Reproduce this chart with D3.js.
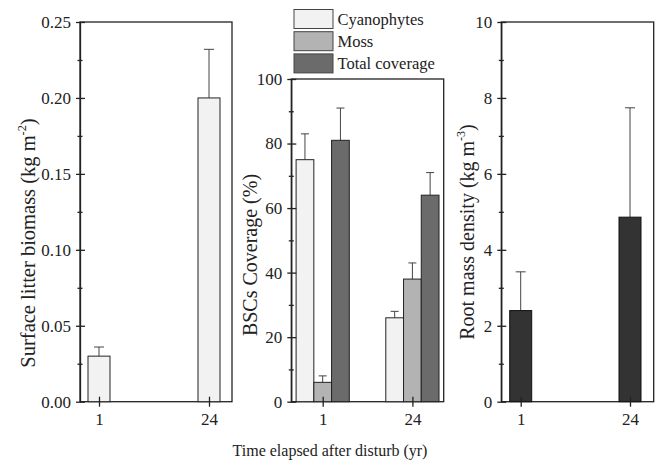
<!DOCTYPE html>
<html>
<head>
<meta charset="utf-8">
<script src="https://cdn.jsdelivr.net/npm/d3@7.9.0/dist/d3.min.js"></script>
<style>
  body { margin: 0; background: #fff; }
  svg { display: block; font-family: "Liberation Serif", "DejaVu Serif", serif; }
</style>
</head>
<body>
<div id="chart"></div>
<script>
// data
const years = ['1', '24'];

const litterMean = [0.03, 0.20];
const litterErr = [0.006, 0.032];

const bscSeries = ['Cyanophytes', 'Moss', 'Total coverage'];
const bscColors = ['#f2f2f2', '#b3b3b3', '#6b6b6b'];
const bscMean = [[75, 6, 81], [26, 38, 64]];
const bscErr = [[8, 2, 10], [2, 5, 7]];

const rootMean = [2.4, 4.86];
const rootErr = [1.02, 2.88];

const width = 660;
const height = 471;
const serif = '"Liberation Serif", "DejaVu Serif", serif';

const svg = d3.select('#chart')
  .append('svg')
  .attr('width', width)
  .attr('height', height);

function styleTicks(sel) {
  sel.attr('font-family', serif).attr('font-size', 17);
  sel.selectAll('text').attr('fill', '#222');
}

function drawPanel(box, yDomain, yMajor, yMinor, fmt) {
  const g = svg.append('g');
  const y = d3.scaleLinear().domain(yDomain).range([box.y1, box.y0]);
  const x = d3.scalePoint().domain(years).range([box.x0 + box.padL, box.x1 - box.padR]);

  // frame
  g.append('rect')
    .attr('x', box.x0).attr('y', box.y0)
    .attr('width', box.x1 - box.x0).attr('height', box.y1 - box.y0)
    .attr('fill', 'none').attr('stroke', '#222').attr('stroke-width', 1.3);

  const barsG = g.append('g');

  // y axis
  const ya = g.append('g')
    .attr('transform', `translate(${box.x0},0)`)
    .call(d3.axisLeft(y).tickValues(yMajor).tickFormat(fmt).tickSizeInner(4).tickSizeOuter(0).tickPadding(5))
    .call(styleTicks);
  ya.select('.domain').attr('stroke', '#222').attr('stroke-width', 1.3);
  ya.selectAll('.tick line').attr('x2', -4).attr('x1', 5).attr('stroke', '#222').attr('stroke-width', 1.3);
  g.append('g')
    .attr('transform', `translate(${box.x0},0)`)
    .call(d3.axisLeft(y).tickValues(yMinor).tickFormat('').tickSizeOuter(0))
    .call(a => a.select('.domain').remove())
    .selectAll('.tick line').attr('x1', 2.5).attr('x2', -2.5).attr('stroke', '#222').attr('stroke-width', 1.3);

  // x axis
  const xa = g.append('g')
    .attr('transform', `translate(0,${box.y1})`)
    .call(d3.axisBottom(x).tickSizeOuter(0).tickSizeInner(5).tickPadding(6))
    .call(styleTicks);
  xa.select('.domain').remove();
  xa.selectAll('.tick line').attr('y1', -5).attr('y2', 5).attr('stroke', '#222').attr('stroke-width', 1.3);

  return { g: barsG, x, y };
}

function errorBar(g, cx, yTop, yErr, cap) {
  g.append('line')
    .attr('x1', cx).attr('x2', cx).attr('y1', yTop).attr('y2', yErr)
    .attr('stroke', '#444').attr('stroke-width', 1);
  g.append('line')
    .attr('x1', cx - cap / 2).attr('x2', cx + cap / 2).attr('y1', yErr).attr('y2', yErr)
    .attr('stroke', '#444').attr('stroke-width', 1);
}

// Panel A: litter biomass
const pA = drawPanel({ x0: 80, x1: 232, y0: 22, y1: 401.7, padL: 19, padR: 23 },
  [0, 0.25], [0, 0.05, 0.10, 0.15, 0.20, 0.25], [0.025, 0.075, 0.125, 0.175, 0.225], d3.format('.2f'));
years.forEach((yr, i) => {
  const cx = pA.x(yr);
  const bw = 22;
  errorBar(pA.g, cx, pA.y(litterMean[i]), pA.y(litterMean[i] + litterErr[i]), 10);
  pA.g.append('rect')
    .attr('x', cx - bw / 2).attr('y', pA.y(litterMean[i]))
    .attr('width', bw).attr('height', pA.y(0) - pA.y(litterMean[i]))
    .attr('fill', '#f2f2f2').attr('stroke', '#222').attr('stroke-width', 1);
});

// Panel B: BSCs coverage
const pB = drawPanel({ x0: 291.3, x1: 443.7, y0: 79, y1: 401.7, padL: 31.4, padR: 31.3 },
  [0, 100], [0, 20, 40, 60, 80, 100], [10, 30, 50, 70, 90], d3.format('d'));
const inner = d3.scaleBand().domain(bscSeries).range([-26.6, 26.6]);
years.forEach((yr, i) => {
  bscSeries.forEach((s, j) => {
    const x0 = pB.x(yr) + inner(s);
    const bw = inner.bandwidth();
    errorBar(pB.g, x0 + bw / 2, pB.y(bscMean[i][j]), pB.y(bscMean[i][j] + bscErr[i][j]), 8);
    pB.g.append('rect')
      .attr('x', x0).attr('y', pB.y(bscMean[i][j]))
      .attr('width', bw).attr('height', pB.y(0) - pB.y(bscMean[i][j]))
      .attr('fill', bscColors[j]).attr('stroke', '#222').attr('stroke-width', 1);
  });
});

// legend
const legend = svg.append('g').attr('transform', 'translate(294,9.5)');
bscSeries.forEach((s, j) => {
  const row = legend.append('g').attr('transform', `translate(0,${j * 22.2})`);
  row.append('rect').attr('width', 39).attr('height', 19)
    .attr('fill', bscColors[j]).attr('stroke', '#444').attr('stroke-width', 1);
  row.append('text').attr('x', 43.5).attr('y', 15)
    .attr('font-size', 16.5).attr('fill', '#222').text(s);
});

// Panel C: root mass density
const pC = drawPanel({ x0: 501.3, x1: 653.7, y0: 22, y1: 401.7, padL: 19.4, padR: 23.7 },
  [0, 10], [0, 2, 4, 6, 8, 10], [1, 3, 5, 7, 9], d3.format('d'));
years.forEach((yr, i) => {
  const cx = pC.x(yr);
  const bw = 22;
  errorBar(pC.g, cx, pC.y(rootMean[i]), pC.y(rootMean[i] + rootErr[i]), 10);
  pC.g.append('rect')
    .attr('x', cx - bw / 2).attr('y', pC.y(rootMean[i]))
    .attr('width', bw).attr('height', pC.y(0) - pC.y(rootMean[i]))
    .attr('fill', '#333333').attr('stroke', '#111').attr('stroke-width', 1);
});

// axis titles
function yTitle(cx, cy, size, parts) {
  const t = svg.append('text')
    .attr('transform', `translate(${cx},${cy}) rotate(-90)`)
    .attr('text-anchor', 'middle')
    .attr('font-size', size).attr('fill', '#222');
  parts.forEach(p => {
    const ts = t.append('tspan').text(p.t);
    if (p.sup) ts.attr('font-size', size * 0.6).attr('dy', -size * 0.45);
    if (p.after) ts.attr('dy', size * 0.45);
  });
}
yTitle(35, 243, 20.5, [{ t: 'Surface litter biomass (kg m' }, { t: '-2', sup: true }, { t: ')', after: true }]);
yTitle(257, 255, 20, [{ t: 'BSCs Coverage (%)' }]);
yTitle(474, 232, 20, [{ t: 'Root mass density (kg m' }, { t: '-3', sup: true }, { t: ')', after: true }]);

svg.append('text')
  .attr('x', 330).attr('y', 456)
  .attr('text-anchor', 'middle')
  .attr('font-size', 16).attr('fill', '#222')
  .text('Time elapsed after disturb (yr)');
</script>
</body>
</html>
